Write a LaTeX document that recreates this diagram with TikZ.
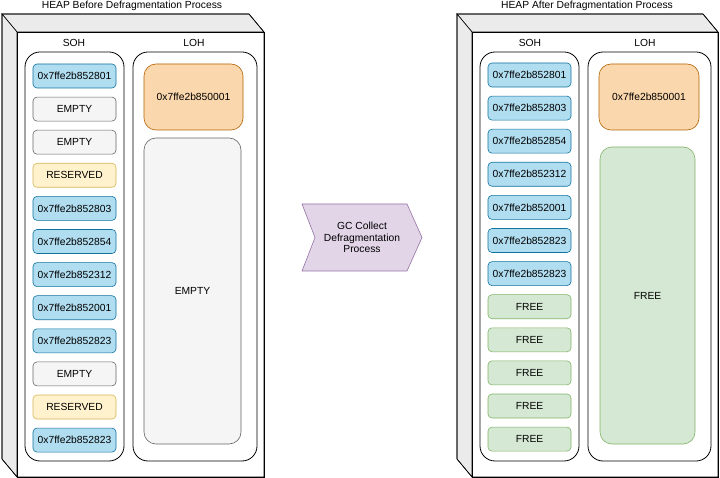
\documentclass[tikz,border=0pt]{standalone}
\usepackage{fontspec}
\setmainfont{Liberation Sans}
\begin{document}
\begin{tikzpicture}[x=1pt,y=-1pt,
  font=\fontsize{10.3}{12}\selectfont,
  cell/.style={draw,rounded corners=4pt,minimum width=83pt,minimum height=24pt,inner sep=0pt,line width=0.6pt},
  used/.style={cell,fill=blue!0!white,fill={rgb,255:red,177;green,221;blue,240},draw={rgb,255:red,16;green,115;blue,158}},
  emptyc/.style={cell,fill={rgb,255:red,245;green,245;blue,245},draw={rgb,255:red,102;green,102;blue,102}},
  resv/.style={cell,fill={rgb,255:red,255;green,242;blue,204},draw={rgb,255:red,214;green,182;blue,86}},
  freec/.style={cell,fill={rgb,255:red,213;green,232;blue,212},draw={rgb,255:red,130;green,179;blue,102}},
  big/.style={draw,rounded corners=12pt,inner sep=0pt,line width=0.6pt},
  orangec/.style={big,fill={rgb,255:red,250;green,215;blue,172},draw={rgb,255:red,180;green,101;blue,4}},
  cont/.style={draw=black,rounded corners=15pt,line width=0.8pt},
  side/.style={fill={rgb,255:red,235;green,235;blue,235},draw=black,line width=0.6pt},
  lbl/.style={inner sep=0pt}
]
\useasboundingbox (0,0) rectangle (720,478);
\fill[white] (0,0) rectangle (720,478);

% ---------- cubes ----------
\foreach \xa/\xb in {17/264, 472/718}{
  \path[side] (\xa-15,14) -- (\xb-15,14) -- (\xb,32) -- (\xa,32) -- cycle;
  \path[side] (\xa-15,14) -- (\xa,32) -- (\xa,477) -- (\xa-15,459) -- cycle;
  \draw[fill=white,line width=0.8pt] (\xa,32) rectangle (\xb,477);
  \draw[line width=0.6pt] (\xa-15,14) -- (\xb-15,14) -- (\xb,32) -- (\xb,477) -- (\xa,477) -- (\xa-15,459) -- cycle;
}

% ---------- titles ----------
\node[lbl] (t1) at (132,6) {HEAP Before Defragmentation Process};
\node[lbl] (t2) at (587,6) {HEAP After Defragmentation Process};

% ---------- containers ----------
\node[cont,minimum width=99pt,minimum height=409pt] (soh1) at (74.5,256.5) {};
\node[cont,minimum width=124pt,minimum height=409pt] (loh1) at (195,256.5) {};
\node[cont,minimum width=99pt,minimum height=409pt] (soh2) at (529.5,256.5) {};
\node[cont,minimum width=123pt,minimum height=409pt] (loh2) at (649.5,256.5) {};
\node[lbl] (soh1l) at (74,43) {SOH};
\node[lbl] (loh1l) at (194,43) {LOH};
\node[lbl] (soh2l) at (530,43) {SOH};
\node[lbl] (loh2l) at (645,43) {LOH};

% ---------- left SOH cells ----------
\foreach \i/\st/\tx in {0/used/0x7ffe2b852801, 1/emptyc/EMPTY, 2/emptyc/EMPTY, 3/resv/RESERVED,
  4/used/0x7ffe2b852803, 5/used/0x7ffe2b852854, 6/used/0x7ffe2b852312, 7/used/0x7ffe2b852001,
  8/used/0x7ffe2b852823, 9/emptyc/EMPTY, 10/resv/RESERVED, 11/used/0x7ffe2b852823}{
  \node[\st] (a\i) at (74.5,{76+33.1*\i}) {\tx};
}
% ---------- right SOH cells ----------
\foreach \i/\st/\tx in {0/used/0x7ffe2b852801, 1/used/0x7ffe2b852803, 2/used/0x7ffe2b852854, 3/used/0x7ffe2b852312,
  4/used/0x7ffe2b852001, 5/used/0x7ffe2b852823, 6/used/0x7ffe2b852823, 7/freec/FREE,
  8/freec/FREE, 9/freec/FREE, 10/freec/FREE, 11/freec/FREE}{
  \node[\st] (b\i) at (529.5,{75+33.1*\i}) {\tx};
}

% ---------- LOH contents ----------
\node[orangec,minimum width=99pt,minimum height=66pt] (o1) at (193.5,97) {0x7ffe2b850001};
\node[big,fill={rgb,255:red,245;green,245;blue,245},draw={rgb,255:red,102;green,102;blue,102},minimum width=97pt,minimum height=306pt] (e1) at (192.5,291) {EMPTY};
\node[orangec,minimum width=100pt,minimum height=66pt] (o2) at (649,97) {0x7ffe2b850001};
\node[big,fill={rgb,255:red,213;green,232;blue,212},draw={rgb,255:red,130;green,179;blue,102},minimum width=95pt,minimum height=297pt] (f2) at (647.5,295.5) {FREE};

% ---------- process step ----------
\draw[fill={rgb,255:red,225;green,213;blue,231},draw={rgb,255:red,150;green,115;blue,166},line width=0.6pt]
  (302,204) -- (407,204) -- (422,237.5) -- (407,271) -- (302,271) -- (315,237.5) -- cycle;
\node[lbl,align=center,font=\fontsize{10.3}{11.5}\selectfont] (gc) at (362,237.5) {GC Collect\\Defragmentation\\Process};
\end{tikzpicture}
\end{document}
